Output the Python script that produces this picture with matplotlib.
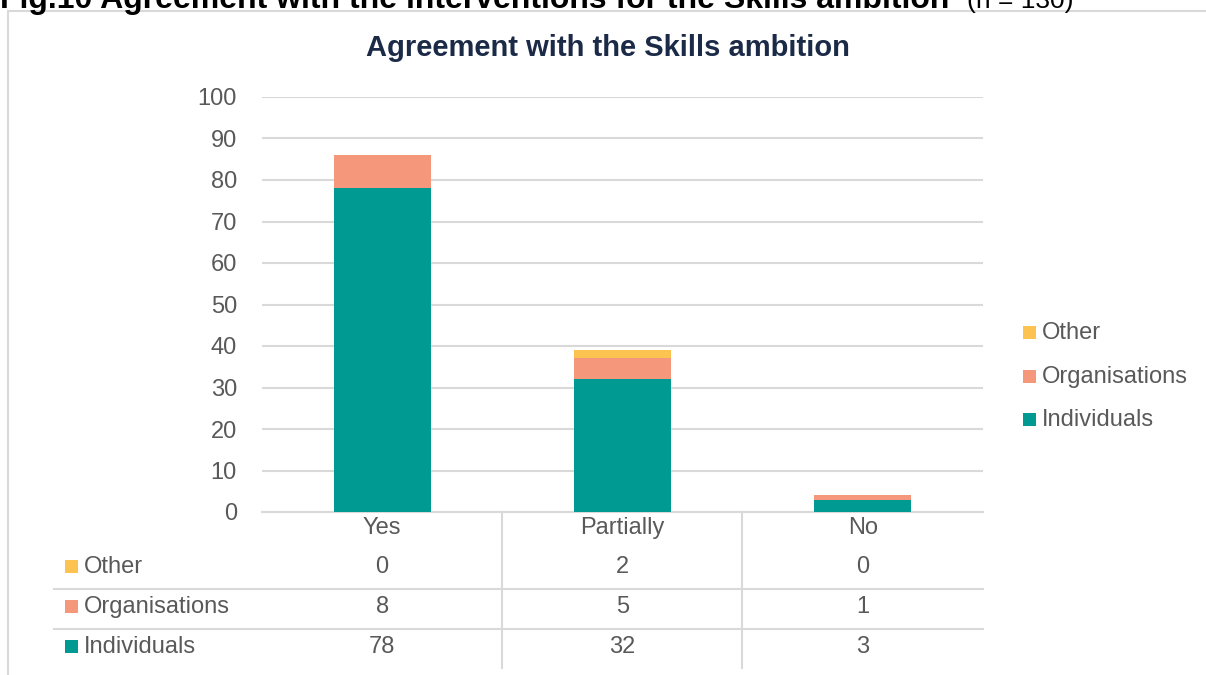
import matplotlib.pyplot as plt
import matplotlib.transforms as mtransforms
from matplotlib.patches import Rectangle
from matplotlib.lines import Line2D
import numpy as np

plt.rcParams['font.family'] = ['Liberation Sans', 'DejaVu Sans']

categories = ['Yes', 'Partially', 'No']
individuals = [78, 32, 3]
organisations = [8, 5, 1]
other = [0, 2, 0]

series_colors = {'Individuals': '#009A93', 'Organisations': '#F4977A', 'Other': '#FCC351'}

W, H = 1206, 675
GREY_TEXT = '#595959'
GRID = '#D9D9D9'
FS = 17


def fy(py):
    '''Pixel row from the top -> figure fraction'''
    return 1 - py / H


def fx(px):
    return px / W


fig = plt.figure(figsize=(W / 100, H / 100), dpi=100)

# outer chart border and the caption running above it
fig.add_artist(Rectangle((fx(8), fy(700)), fx(1300), fy(11) - fy(700), transform=fig.transFigure,
                         fill=False, edgecolor=GRID, lw=1.5))
fig.text(fx(0), fy(8), 'Fig.10 Agreement with the interventions for the Skills ambition',
         fontsize=23, fontweight='bold', color='black', va='baseline', ha='left')
fig.text(fx(967), fy(8), '(n = 130)', fontsize=19, color='black', va='baseline', ha='left')

ax = fig.add_axes([fx(262), fy(512), fx(983) - fx(262), fy(97) - fy(512)])
x = np.arange(len(categories))
ax.set_xlim(-0.5, len(categories) - 0.5)
ax.set_ylim(0, 100)

bottom = np.zeros(len(categories))
for name, vals in [('Individuals', individuals), ('Organisations', organisations), ('Other', other)]:
    ax.bar(x, vals, width=0.404, bottom=bottom, color=series_colors[name], zorder=3)
    bottom += np.array(vals)

ax.set_yticks(range(0, 101, 10))
ax.yaxis.grid(True, color=GRID, lw=1.5, zorder=0)
ax.tick_params(axis='y', length=0, pad=18, labelsize=FS, labelcolor=GREY_TEXT)
ax.set_xticks([])
for s in ['top', 'right', 'left']:
    ax.spines[s].set_visible(False)
ax.spines['bottom'].set_color(GRID)
ax.spines['bottom'].set_linewidth(1.5)

fig.text(fx(608), fy(48), 'Agreement with the Skills ambition', fontsize=21, fontweight='bold',
         color='#1B2A47', ha='center', va='center')

# data table under the plot
trans = mtransforms.blended_transform_factory(ax.transData, fig.transFigure)
for i, c in enumerate(categories):
    ax.text(i, fy(528), c, transform=trans, ha='center', va='center', fontsize=FS, color=GREY_TEXT)

rows = [('Other', other, 567), ('Organisations', organisations, 607), ('Individuals', individuals, 647)]
for name, vals, py in rows:
    fig.add_artist(Rectangle((fx(65), fy(py + 6)), fx(13), fy(py - 7) - fy(py + 6),
                             transform=fig.transFigure, color=series_colors[name], lw=0))
    fig.text(fx(84), fy(py), name, fontsize=FS, color=GREY_TEXT, ha='left', va='center')
    for i, v in enumerate(vals):
        ax.text(i, fy(py), str(v), transform=trans, ha='center', va='center',
                fontsize=FS, color=GREY_TEXT)

for py in [589, 629]:
    fig.add_artist(Line2D([fx(54), fx(983)], [fy(py), fy(py)], transform=fig.transFigure,
                          color=GRID, lw=1.5))
for px in [502, 742]:
    fig.add_artist(Line2D([fx(px), fx(px)], [fy(512), fy(668)], transform=fig.transFigure,
                          color=GRID, lw=1.5))

# legend on the right
for name, py in [('Other', 333), ('Organisations', 377), ('Individuals', 420)]:
    fig.add_artist(Rectangle((fx(1023), fy(py + 6)), fx(13), fy(py - 7) - fy(py + 6),
                             transform=fig.transFigure, color=series_colors[name], lw=0))
    fig.text(fx(1042), fy(py), name, fontsize=FS, color=GREY_TEXT, ha='left', va='center')

fig.savefig('out.png', dpi=100)
